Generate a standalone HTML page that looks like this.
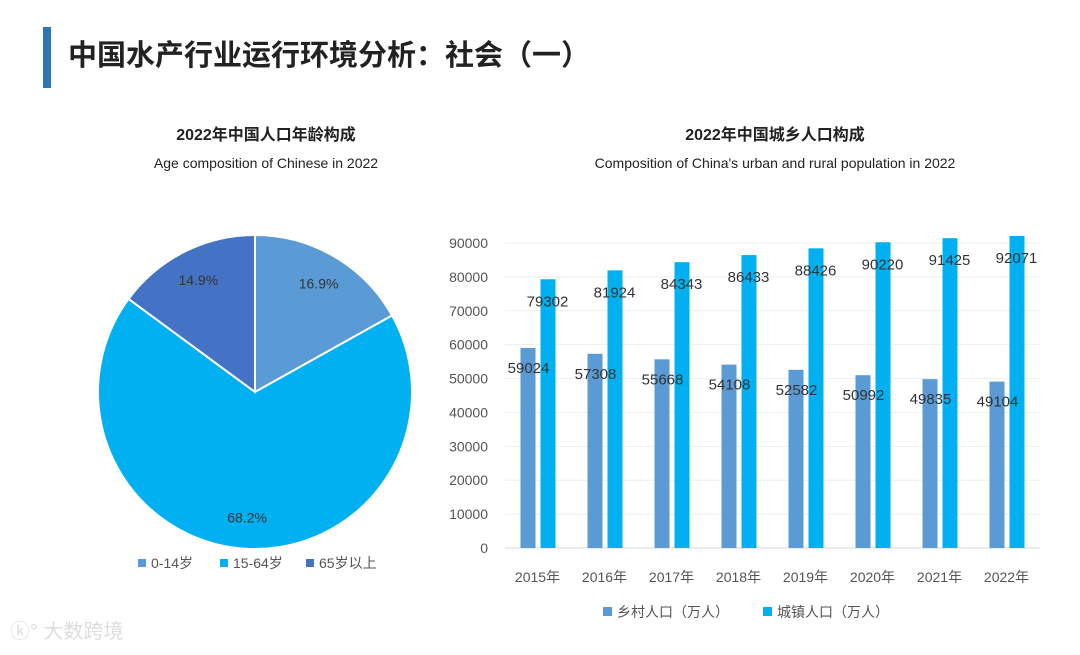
<!DOCTYPE html>
<html><head><meta charset="utf-8">
<style>
body{margin:0;width:1080px;height:650px;background:#fff;overflow:hidden;font-family:"Liberation Sans","Noto Sans CJK SC",sans-serif;}
</style></head>
<body>
<svg width="1080" height="650" xmlns="http://www.w3.org/2000/svg" font-family="Liberation Sans, Noto Sans CJK SC, sans-serif">
<rect x="43" y="27" width="8" height="61" fill="#2E75B6"/>
<text x="68" y="65" font-size="29" font-weight="bold" fill="#222">中国水产行业运行环境分析：社会（一）</text>
<text x="266" y="140" font-size="16" font-weight="bold" text-anchor="middle" fill="#222">2022年中国人口年龄构成</text>
<text x="266" y="168" font-size="14" text-anchor="middle" fill="#222">Age composition of Chinese in 2022</text>
<text x="775" y="140" font-size="16" font-weight="bold" text-anchor="middle" fill="#222">2022年中国城乡人口构成</text>
<text x="775" y="168" font-size="14" text-anchor="middle" fill="#222">Composition of China's urban and rural population in 2022</text>
<g id="pie"></g>
<g id="bars"></g>
<text x="10" y="638" font-size="20" fill="#ddd">ⓚ° 大数跨境</text>
</svg>
<script>
const pieLabels=["0-14岁","15-64岁","65岁以上"];
const pieValues=[16.9,68.2,14.9];
const pieColors=["#5B9BD5","#00B0F0","#4472C4"];
const years=["2015年","2016年","2017年","2018年","2019年","2020年","2021年","2022年"];
const rural=[59024,57308,55668,54108,52582,50992,49835,49104];
const urban=[79302,81924,84343,86433,88426,90220,91425,92071];
const yTicks=[0,10000,20000,30000,40000,50000,60000,70000,80000,90000];
const NS="http://www.w3.org/2000/svg";
function mk(t,a,p){const e=document.createElementNS(NS,t);for(const k in a)e.setAttribute(k,a[k]);p.appendChild(e);return e;}
const pie=document.getElementById('pie');
const cx=255,cy=392,R=157;
const tot=pieValues.reduce((a,b)=>a+b,0);
let ang=-Math.PI/2;
pieValues.forEach((v,i)=>{
  const a2=ang+v/tot*2*Math.PI;
  const x1=cx+R*Math.cos(ang),y1=cy+R*Math.sin(ang),x2=cx+R*Math.cos(a2),y2=cy+R*Math.sin(a2);
  const large=(a2-ang)>Math.PI?1:0;
  const p=mk('path',{d:`M${cx},${cy}L${x1},${y1}A${R},${R} 0 ${large} 1 ${x2},${y2}Z`,fill:pieColors[i],stroke:'#fff','stroke-width':2},pie);
  
  
  const m=(ang+a2)/2, r2=R*0.8;
  const t=mk('text',{x:cx+r2*Math.cos(m),y:cy+r2*Math.sin(m)+5,'font-size':14,'text-anchor':'middle',fill:'#333'},pie);
  t.textContent=v.toFixed(1)+'%';
  
  
  ang=a2;
});
const lx=[138,220,306];
pieLabels.forEach((l,i)=>{
  const r=mk('rect',{x:lx[i],y:559,width:8,height:8,fill:pieColors[i]},pie);
  
  
  const t=mk('text',{x:lx[i]+13,y:568,'font-size':14,fill:'#555'},pie);
  t.textContent=l;
  
  
});
const g=document.getElementById('bars');
const y0=548,ppu=305/90000;
const yS=v=>y0-v*ppu;
const x0=504,step=67;
const xC=i=>x0+step*(i+0.5);
yTicks.forEach(v=>{
  const l=mk('line',{x1:505,x2:1040,y1:yS(v),y2:yS(v),stroke:v===0?'#d9d9d9':'#eeeeee'},g);
  
  
  const t=mk('text',{x:488,y:yS(v)+5,'font-size':14,'text-anchor':'end',fill:'#555'},g);
  t.textContent=v;
  
  
});
years.forEach((y,i)=>{
  const c=xC(i);
  const b1=mk('rect',{x:c-17,y:yS(rural[i]),width:15,height:rural[i]*ppu,fill:'#5B9BD5'},g);
  
  
  const b2=mk('rect',{x:c+3,y:yS(urban[i]),width:15,height:urban[i]*ppu,fill:'#00B0F0'},g);
  
  
  const t1=mk('text',{x:c-9,y:yS(rural[i])+25,'font-size':15,'text-anchor':'middle',fill:'#333'},g);
  t1.textContent=rural[i];
  
  
  const t2=mk('text',{x:c+10,y:yS(urban[i])+27,'font-size':15,'text-anchor':'middle',fill:'#333'},g);
  t2.textContent=urban[i];
  
  
  const t3=mk('text',{x:c,y:582,'font-size':14,'text-anchor':'middle',fill:'#555'},g);
  t3.textContent=y;
  
  
});
const leg=[["乡村人口（万人）","#5B9BD5",603],["城镇人口（万人）","#00B0F0",763]];
leg.forEach(([l,c,x],i)=>{
  const r=mk('rect',{x:x,y:607,width:9,height:9,fill:c},g);
  
  
  const t=mk('text',{x:x+14,y:617,'font-size':14,fill:'#555'},g);
  t.textContent=l;
  
  
});
</script>
</body></html>
